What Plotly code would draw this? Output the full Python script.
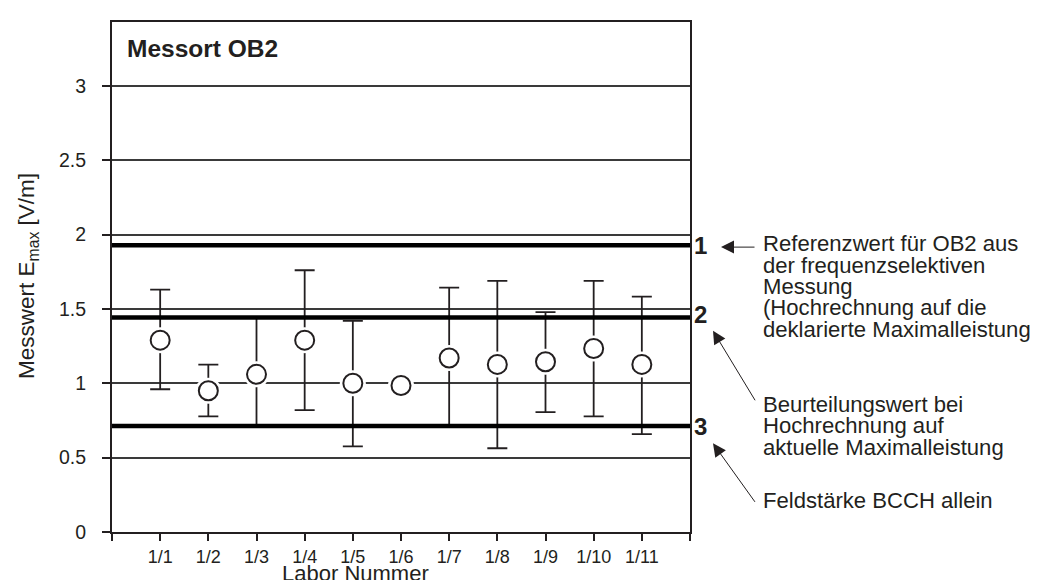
import plotly.graph_objects as go

# ---- data ----
labs = ['1/1', '1/2', '1/3', '1/4', '1/5', '1/6', '1/7', '1/8', '1/9', '1/10', '1/11']
xpos = [1, 2, 3, 4, 5, 6, 7, 8, 9, 10, 11]
values = [1.29, 0.95, 1.06, 1.29, 1.00, 0.985, 1.17, 1.127, 1.145, 1.234, 1.127]
upper = [1.63, 1.125, 1.44, 1.76, 1.42, 0.985, 1.643, 1.688, 1.478, 1.688, 1.583]
lower = [0.96, 0.777, 0.71, 0.82, 0.576, 0.985, 0.714, 0.563, 0.806, 0.777, 0.658]
ref_vals = [1.929, 1.442, 0.712]
ref_labels = ['1', '2', '3']
ytick_vals = [0, 0.5, 1, 1.5, 2, 2.5, 3]
ytick_text = ['0', '0.5', '1', '1.5', '2', '2.5', '3']

FONT = 'Liberation Sans, Arial, sans-serif'
INK = '#231f20'

W, H = 1038, 580
L, R, T, B = 104, 682, 12, 524  # plot area in pixels
pw, ph = R - L, B - T


def px(x):
    return (x - L) / pw


def py(y):
    return (B - y) / ph


err_plus = [u - v for u, v in zip(upper, values)]
err_minus = [v - l for v, l in zip(values, lower)]

fig = go.Figure()

# error bars
fig.add_trace(go.Scatter(
    x=xpos, y=values, mode='markers',
    marker=dict(size=1, color='rgba(0,0,0,0)'),
    error_y=dict(type='data', symmetric=False, array=err_plus, arrayminus=err_minus,
                 color=INK, thickness=1.8, width=10),
    hoverinfo='skip', showlegend=False))
# white halo
fig.add_trace(go.Scatter(
    x=xpos, y=values, mode='markers',
    marker=dict(size=26, color='white', line=dict(width=0)),
    hoverinfo='skip', showlegend=False))
# circles
fig.add_trace(go.Scatter(
    x=xpos, y=values, mode='markers',
    marker=dict(size=19, color='white', line=dict(width=2, color=INK)),
    showlegend=False))

shapes = []
for v in ref_vals:
    shapes.append(dict(type='line', xref='x', yref='y', x0=0, x1=12, y0=v, y1=v,
                       line=dict(color='black', width=4.5), layer='above'))

annotations = []
# title in plot
annotations.append(dict(text='<b>Messort OB2</b>', xref='paper', yref='paper',
                        x=px(117), y=py(39), xanchor='left', yanchor='middle',
                        showarrow=False, font=dict(family=FONT, size=24.5, color=INK)))
# reference numbers
for v, lab, ys in zip(ref_vals, ref_labels, [0, 3, 0]):
    annotations.append(dict(text='<b>' + lab + '</b>', xref='paper', yref='y',
                            x=1, y=v, xanchor='left', yanchor='middle', xshift=2, yshift=ys,
                            showarrow=False, font=dict(family=FONT, size=24, color=INK)))

# right-side explanatory text, line by line
text_lines = [
    ('Referenzwert für OB2 aus', 234.5),
    ('der frequenzselektiven', 256),
    ('Messung', 277.5),
    ('(Hochrechnung auf die', 299),
    ('deklarierte Maximalleistung)', 320.5),
    ('Beurteilungswert bei', 395.5),
    ('Hochrechnung auf', 417.5),
    ('aktuelle Maximalleistung', 439.5),
    ('Feldstärke BCCH allein', 492.5),
]
for t, yc in text_lines:
    annotations.append(dict(text=t, xref='paper', yref='paper', x=px(753), y=py(yc),
                            xanchor='left', yanchor='middle', showarrow=False,
                            font=dict(family=FONT, size=22.1, color=INK)))

# arrows (tip, tail) in pixels
arrows = [((713, 238), (748, 238)), ((705, 322), (748, 393)), ((705, 435), (748, 495))]
for (tx, ty), (sx, sy) in arrows:
    annotations.append(dict(text='', xref='paper', yref='paper', x=px(tx), y=py(ty),
                            ax=sx - tx, ay=sy - ty, showarrow=True, arrowhead=2,
                            arrowsize=2.6, arrowwidth=1, arrowcolor=INK, standoff=0))

# axis titles
annotations.append(dict(text='Labor Nummer', xref='paper', yref='paper', x=px(347), y=py(566),
                        xanchor='center', yanchor='middle', showarrow=False,
                        font=dict(family=FONT, size=22, color=INK)))
annotations.append(dict(text='Messwert E<sub>max</sub> [V/m]', xref='paper', yref='paper',
                        x=px(20), y=py(267), xanchor='center', yanchor='middle',
                        textangle=-90, showarrow=False,
                        font=dict(family=FONT, size=22.5, color=INK)))

fig.update_layout(
    width=W, height=H, autosize=False,
    margin=dict(l=L, r=W - R, t=T, b=H - B, pad=0),
    plot_bgcolor='white', paper_bgcolor='white',
    font=dict(family=FONT, color=INK),
    showlegend=False,
    shapes=shapes, annotations=annotations,
    xaxis=dict(range=[0, 12], tickvals=list(range(13)), ticktext=[''] + labs + [''],
               ticks='outside', ticklen=7, tickwidth=2, tickcolor=INK,
               showgrid=False, zeroline=False, showline=True, mirror=True,
               linecolor=INK, linewidth=2, tickfont=dict(size=18, color=INK, family=FONT),
               ticklabelstandoff=0),
    yaxis=dict(range=[0, (B - T) / 149.3], tickvals=ytick_vals, ticktext=ytick_text,
               ticks='outside', ticklen=8, tickwidth=2, tickcolor=INK,
               showgrid=True, gridcolor='#3a3a3a', gridwidth=1.5, zeroline=False,
               showline=True, mirror=True, linecolor=INK, linewidth=2,
               tickfont=dict(size=19.5, color=INK, family=FONT), ticklabelstandoff=12),
)

fig.write_html('out.html')
